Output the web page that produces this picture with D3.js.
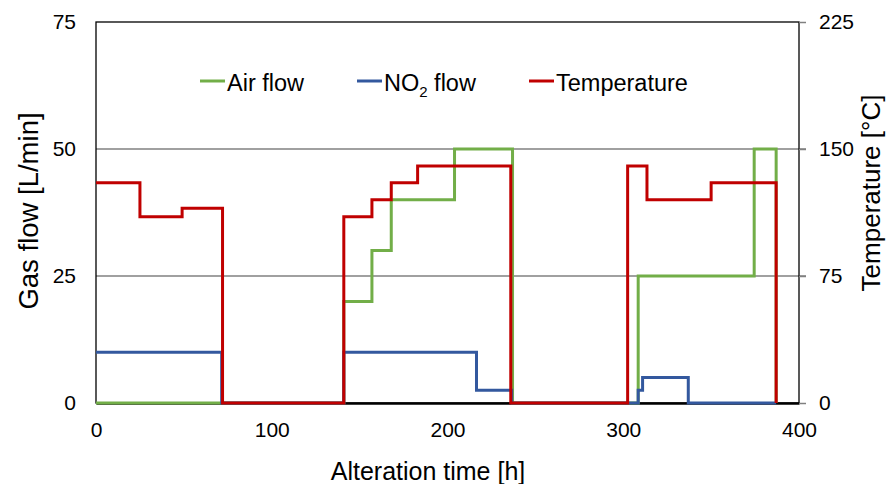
<!DOCTYPE html>
<html>
<head>
<meta charset="utf-8">
<script src="https://cdn.jsdelivr.net/npm/d3@7"></script>
<style>
  body { margin: 0; background: #fff; }
  svg { font-family: Arial, "Liberation Sans", sans-serif; }
</style>
</head>
<body>
<div class="chart"></div>
<script>
  // readings (time in h)
  var airTime  = [0, 72, 141, 157, 168, 204, 237, 308.5, 374.5, 387],
      airFlow  = [0, 0, 20, 30, 40, 50, 0, 25, 50, 0];

  var no2Time  = [0, 71.5, 141, 216.5, 236.5, 308.5, 311, 337, 387],
      no2Flow  = [10, 0, 10, 2.5, 0, 2.5, 5, 0, 0];

  var tempTime = [0, 25, 49, 72, 141, 157, 168, 183, 236, 302.5, 313.5, 350, 387],
      tempVal  = [130, 110, 115, 0, 110, 120, 130, 140, 0, 140, 120, 130, 0];

  var xTicks = [0, 100, 200, 300, 400],
      flowTicks = [0, 25, 50, 75],
      tempTicks = [0, 75, 150, 225];

  var margin = {top: 22, right: 90, bottom: 81, left: 96},
      width = 889 - margin.left - margin.right,
      height = 484 - margin.top - margin.bottom;

  var svg = d3.select('.chart')
      .append('svg')
      .attr('width', 889)
      .attr('height', 484)
      .append('g')
      .attr('transform', 'translate(' + margin.left + ',' + margin.top + ')');

  var x = d3.scaleLinear().domain([0, 400]).range([0, width]),
      yFlow = d3.scaleLinear().domain([0, 75]).range([height, 0]),
      yTemp = d3.scaleLinear().domain([0, 225]).range([height, 0]);

  // grid lines (with the little outside ticks on the right)
  svg.selectAll('.grid')
      .data([25, 50])
      .enter().append('line')
      .attr('x1', 0)
      .attr('x2', width + 7)
      .attr('y1', function(d) { return yFlow(d); })
      .attr('y2', function(d) { return yFlow(d); })
      .attr('stroke', '#808080')
      .attr('stroke-width', 1.5);

  // frame
  svg.append('rect')
      .attr('width', width)
      .attr('height', height)
      .attr('fill', 'none')
      .attr('stroke', '#000')
      .attr('stroke-width', 1.3);

  var xAxis = d3.axisBottom(x).tickValues(xTicks).tickSize(0).tickPadding(19);
  var gx = svg.append('g')
      .attr('transform', 'translate(0,' + height + ')')
      .call(xAxis);
  gx.select('.domain').attr('stroke', '#000').attr('stroke-width', 2.5);

  var yAxis = d3.axisLeft(yFlow).tickValues(flowTicks).tickSize(0).tickPadding(20);
  var gy = svg.append('g').call(yAxis);
  gy.select('.domain').remove();

  var tAxis = d3.axisRight(yTemp).tickValues(tempTicks).tickSize(7).tickPadding(13);
  var gt = svg.append('g')
      .attr('transform', 'translate(' + width + ',0)')
      .call(tAxis);
  gt.select('.domain').remove();
  gt.selectAll('line').attr('stroke', '#808080').attr('stroke-width', 1.5);

  svg.selectAll('.tick text')
      .attr('font-size', 21)
      .attr('fill', '#000')
      .style('font-family', 'Arial, "Liberation Sans", sans-serif');

  // step lines
  function stepLine(times, vals, scale) {
    var pts = times.map(function(t, i) { return [x(t), scale(vals[i])]; });
    return d3.line().curve(d3.curveStepAfter)(pts);
  }

  svg.append('path')
      .attr('d', stepLine(airTime, airFlow, yFlow))
      .attr('fill', 'none')
      .attr('stroke', '#72AE48')
      .attr('stroke-width', 3);

  svg.append('path')
      .attr('d', stepLine(no2Time, no2Flow, yFlow))
      .attr('fill', 'none')
      .attr('stroke', '#33589E')
      .attr('stroke-width', 3);

  svg.append('path')
      .attr('d', stepLine(tempTime, tempVal, yTemp))
      .attr('fill', 'none')
      .attr('stroke', '#C00000')
      .attr('stroke-width', 3);

  // legend
  var legend = [
    {name: 'Air flow', color: '#72AE48', x: 104},
    {name: 'NO', sub: '2', rest: ' flow', color: '#33589E', x: 261},
    {name: 'Temperature', color: '#C00000', x: 433}
  ];

  var lg = svg.selectAll('.legend')
      .data(legend)
      .enter().append('g')
      .attr('transform', function(d) { return 'translate(' + d.x + ',59)'; });

  lg.append('line')
      .attr('x1', 0).attr('x2', 25)
      .attr('y1', 0).attr('y2', 0)
      .attr('stroke', function(d) { return d.color; })
      .attr('stroke-width', 3);

  var lt = lg.append('text')
      .attr('x', 27)
      .attr('y', 10)
      .attr('font-size', 23.5)
      .text(function(d) { return d.name; });

  lt.filter(function(d) { return d.sub; })
      .append('tspan')
      .attr('font-size', 15)
      .attr('dy', 6)
      .text(function(d) { return d.sub; });
  lt.filter(function(d) { return d.sub; })
      .append('tspan')
      .attr('dy', -6)
      .text(function(d) { return d.rest; });

  // axis titles
  svg.append('text')
      .attr('transform', 'translate(' + (38 - margin.left) + ',' + (211 - margin.top) + ') rotate(-90)')
      .attr('text-anchor', 'middle')
      .attr('font-size', 27.5)
      .text('Gas flow [L/min]');

  svg.append('text')
      .attr('transform', 'translate(' + (880 - margin.left) + ',' + (193 - margin.top) + ') rotate(-90)')
      .attr('text-anchor', 'middle')
      .attr('font-size', 26)
      .text('Temperature [°C]');

  svg.append('text')
      .attr('x', 428 - margin.left)
      .attr('y', 480 - margin.top)
      .attr('text-anchor', 'middle')
      .attr('font-size', 25)
      .text('Alteration time [h]');
</script>
</body>
</html>
